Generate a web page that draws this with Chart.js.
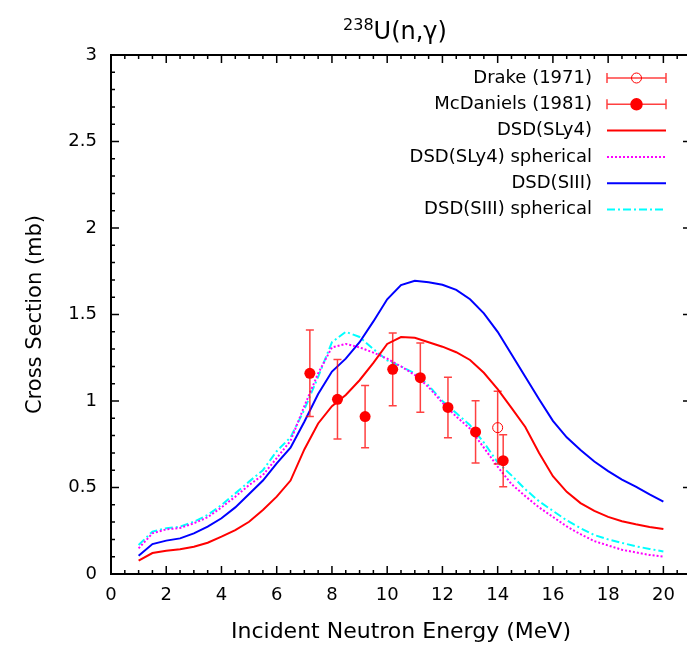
<!DOCTYPE html>
<html>
<head>
<meta charset="utf-8">
<script src="https://cdn.jsdelivr.net/npm/chart.js@4/dist/chart.umd.min.js"></script>
<style>
  html, body { margin: 0; padding: 0; background: #fff; overflow: hidden; }
</style>
</head>
<body>
<canvas id="chart"></canvas>
<script>
// incident neutron energy (MeV) of the calculated curves
var energy = [1, 1.5, 2, 2.5, 3, 3.5, 4, 4.5, 5, 5.5, 6, 6.5, 7, 7.5, 8, 8.5, 9, 9.5, 10, 10.5,
    11, 11.5, 12, 12.5, 13, 13.5, 14, 14.5, 15, 15.5, 16, 16.5, 17, 17.5, 18, 18.5, 19, 19.5, 20];

// cross sections (mb)
var sly4 = [0.077, 0.121, 0.135, 0.143, 0.158, 0.181, 0.216, 0.254, 0.302, 0.370, 0.447, 0.540, 0.720, 0.870, 0.970, 1.035, 1.120, 1.220, 1.330, 1.370,
    1.365, 1.340, 1.314, 1.282, 1.237, 1.163, 1.069, 0.960, 0.850, 0.700, 0.565, 0.475, 0.410, 0.365, 0.330, 0.305, 0.287, 0.272, 0.260];
var sly4Sph = [0.148, 0.235, 0.258, 0.266, 0.293, 0.328, 0.385, 0.447, 0.514, 0.572, 0.670, 0.770, 0.970, 1.160, 1.310, 1.330, 1.310, 1.280, 1.245, 1.200,
    1.150, 1.080, 0.990, 0.910, 0.840, 0.730, 0.620, 0.520, 0.450, 0.385, 0.330, 0.275, 0.230, 0.190, 0.165, 0.140, 0.125, 0.110, 0.100];
var siii = [0.106, 0.173, 0.193, 0.206, 0.235, 0.274, 0.322, 0.385, 0.462, 0.540, 0.640, 0.730, 0.880, 1.040, 1.170, 1.245, 1.340, 1.460, 1.588, 1.670,
    1.695, 1.686, 1.672, 1.642, 1.588, 1.507, 1.400, 1.270, 1.140, 1.010, 0.885, 0.790, 0.717, 0.650, 0.595, 0.546, 0.505, 0.460, 0.418];
var siiiSph = [0.168, 0.245, 0.264, 0.274, 0.302, 0.341, 0.399, 0.466, 0.534, 0.600, 0.710, 0.790, 0.950, 1.140, 1.340, 1.400, 1.370, 1.300, 1.235, 1.200,
    1.160, 1.090, 1.000, 0.930, 0.860, 0.760, 0.645, 0.570, 0.490, 0.420, 0.365, 0.310, 0.265, 0.225, 0.200, 0.180, 0.160, 0.145, 0.130];

// measurements
var mcdE = [7.2, 8.2, 9.2, 10.2, 11.2, 12.2, 13.2, 14.2];
var mcdXs = [1.160, 1.010, 0.910, 1.183, 1.135, 0.963, 0.821, 0.655];
var mcdErr = [0.25, 0.23, 0.18, 0.21, 0.20, 0.175, 0.18, 0.15];
var drakeE = [14.0];
var drakeXs = [0.846];
var drakeErr = [0.21];

var titleMass = '238';
var titleMain = 'U(n,\u03b3)';

function pairs(xs, ys) {
    return xs.map(function (x, i) { return { x: x, y: ys[i] }; });
}

var errorBars = {
    id: 'errorBars',
    beforeDatasetDraw: function (chart, args) {
        var ds = chart.data.datasets[args.index];
        if (!ds.errors) return;
        var xs = chart.scales.x, ys = chart.scales.y, ctx = chart.ctx;
        ctx.save();
        ctx.strokeStyle = 'rgba(255, 0, 0, 0.75)';
        ctx.lineWidth = 1.5;
        ds.data.forEach(function (p, i) {
            var px = xs.getPixelForValue(p.x);
            var top = ys.getPixelForValue(p.y + ds.errors[i]);
            var bot = ys.getPixelForValue(p.y - ds.errors[i]);
            ctx.beginPath();
            ctx.moveTo(px, top); ctx.lineTo(px, bot);
            ctx.moveTo(px - 4, top); ctx.lineTo(px + 4, top);
            ctx.moveTo(px - 4, bot); ctx.lineTo(px + 4, bot);
            ctx.stroke();
        });
        ctx.restore();
    }
};

// gnuplot style box with inward ticks on all four sides
var frame = {
    id: 'frame',
    afterDatasetsDraw: function (chart) {
        var a = chart.chartArea, xs = chart.scales.x, ys = chart.scales.y, ctx = chart.ctx;
        ctx.save();
        ctx.strokeStyle = '#000';
        ctx.lineWidth = 2;
        ctx.strokeRect(a.left, a.top, a.right - a.left, a.bottom - a.top);
        ctx.lineWidth = 1.5;
        ctx.beginPath();
        for (var i = 1; i < 42; i++) {
            var px = xs.getPixelForValue(i / 2);
            var len = i % 4 === 0 ? 8 : 4;
            ctx.moveTo(px, a.bottom); ctx.lineTo(px, a.bottom - len);
            ctx.moveTo(px, a.top); ctx.lineTo(px, a.top + len);
        }
        for (var j = 1; j < 30; j++) {
            var py = ys.getPixelForValue(j / 10);
            var l2 = j % 5 === 0 ? 8 : 4;
            ctx.moveTo(a.left, py); ctx.lineTo(a.left + l2, py);
            ctx.moveTo(a.right, py); ctx.lineTo(a.right - l2, py);
        }
        ctx.stroke();
        ctx.restore();
    }
};

var legendBox = {
    id: 'legendBox',
    afterDraw: function (chart) {
        var a = chart.chartArea, ctx = chart.ctx;
        var textRight = a.right - 99, x0 = a.right - 84, x1 = a.right - 25, xm = (x0 + x1) / 2;
        ctx.save();
        ctx.font = '18px "DejaVu Sans"';
        ctx.textAlign = 'right';
        ctx.textBaseline = 'middle';
        chart.data.datasets.forEach(function (ds, i) {
            var yy = a.top + 23 + i * 26.3;
            ctx.fillStyle = '#000';
            ctx.fillText(ds.label, textRight, yy);
            ctx.beginPath();
            if (ds.errors) {
                ctx.strokeStyle = 'rgba(255, 0, 0, 0.75)';
                ctx.lineWidth = 1.5;
                ctx.setLineDash([]);
                ctx.moveTo(x0, yy); ctx.lineTo(x1, yy);
                ctx.moveTo(x0, yy - 5); ctx.lineTo(x0, yy + 5);
                ctx.moveTo(x1, yy - 5); ctx.lineTo(x1, yy + 5);
                ctx.stroke();
                ctx.beginPath();
                ctx.arc(xm, yy, ds.pointRadius, 0, Math.PI * 2);
                ctx.fillStyle = ds.pointBackgroundColor;
                ctx.fill();
                ctx.strokeStyle = ds.pointBorderColor;
                ctx.lineWidth = ds.pointBorderWidth;
                ctx.stroke();
            } else {
                ctx.strokeStyle = ds.borderColor;
                ctx.lineWidth = ds.borderWidth;
                ctx.setLineDash(ds.borderDash || []);
                ctx.moveTo(x0, yy); ctx.lineTo(x1, yy);
                ctx.stroke();
            }
        });
        ctx.restore();
    }
};

var supTitle = {
    id: 'supTitle',
    afterDraw: function (chart) {
        var a = chart.chartArea, ctx = chart.ctx;
        var big = '24px "DejaVu Sans"', small = '16px "DejaVu Sans"';
        ctx.save();
        ctx.fillStyle = '#000';
        ctx.textAlign = 'left';
        ctx.textBaseline = 'alphabetic';
        ctx.font = small;
        var w1 = ctx.measureText(titleMass).width;
        ctx.font = big;
        var w2 = ctx.measureText(titleMain).width;
        var left = (a.left + a.right) / 2 - (w1 + w2) / 2 - 6, base = a.top - 16;
        ctx.font = small;
        ctx.fillText(titleMass, left, base - 9);
        ctx.font = big;
        ctx.fillText(titleMain, left + w1, base);
        ctx.restore();
    }
};

Chart.defaults.font.family = '"DejaVu Sans"';
Chart.defaults.color = '#000';

var ctx = document.getElementById('chart').getContext('2d');
ctx.canvas.width = 700;
ctx.canvas.height = 649;

var chart = new Chart(ctx, {
    type: 'scatter',
    data: {
        datasets: [{
            label: 'Drake (1971)',
            data: pairs(drakeE, drakeXs),
            errors: drakeErr,
            pointRadius: 5,
            pointBackgroundColor: 'rgba(0, 0, 0, 0)',
            pointBorderColor: '#ff0000',
            pointBorderWidth: 1,
            showLine: false
        }, {
            label: 'McDaniels (1981)',
            data: pairs(mcdE, mcdXs),
            errors: mcdErr,
            pointRadius: 5.5,
            pointBackgroundColor: '#ff0000',
            pointBorderColor: '#ff0000',
            pointBorderWidth: 0,
            showLine: false
        }, {
            label: 'DSD(SLy4)',
            data: pairs(energy, sly4),
            borderColor: '#ff0000',
            borderWidth: 2,
            pointRadius: 0,
            showLine: true
        }, {
            label: 'DSD(SLy4) spherical',
            data: pairs(energy, sly4Sph),
            borderColor: '#ff00ff',
            borderWidth: 2,
            borderDash: [2, 2],
            pointRadius: 0,
            showLine: true
        }, {
            label: 'DSD(SIII)',
            data: pairs(energy, siii),
            borderColor: '#0000ff',
            borderWidth: 2,
            pointRadius: 0,
            showLine: true
        }, {
            label: 'DSD(SIII) spherical',
            data: pairs(energy, siiiSph),
            borderColor: '#00ffff',
            borderWidth: 2,
            borderDash: [8, 3, 2, 3],
            pointRadius: 0,
            showLine: true
        }]
    },
    options: {
        responsive: false,
        animation: false,
        layout: { padding: { top: 55, right: 9, left: 0, bottom: 0 } },
        plugins: {
            legend: { display: false },
            tooltip: { enabled: false }
        },
        scales: {
            x: {
                type: 'linear',
                min: 0,
                max: 21,
                grid: { display: false, drawTicks: false },
                border: { display: false },
                ticks: {
                    stepSize: 2,
                    includeBounds: false,
                    autoSkip: false,
                    padding: 11,
                    maxRotation: 0,
                    font: { size: 18 }
                },
                title: {
                    display: true,
                    text: 'Incident Neutron Energy (MeV)',
                    font: { size: 22 },
                    padding: { top: 0, bottom: 4 }
                },
                afterFit: function (s) { s.height = 75; }
            },
            y: {
                min: 0,
                max: 3,
                grid: { display: false, drawTicks: false },
                border: { display: false },
                ticks: {
                    stepSize: 0.5,
                    padding: 14,
                    font: { size: 18 },
                    callback: function (v) { return String(v); }
                },
                title: {
                    display: true,
                    text: 'Cross Section (mb)',
                    font: { size: 21 },
                    padding: { top: 23, bottom: 0 }
                },
                afterFit: function (s) { s.width = 111; }
            }
        }
    },
    plugins: [errorBars, frame, legendBox, supTitle]
});
</script>
</body>
</html>
